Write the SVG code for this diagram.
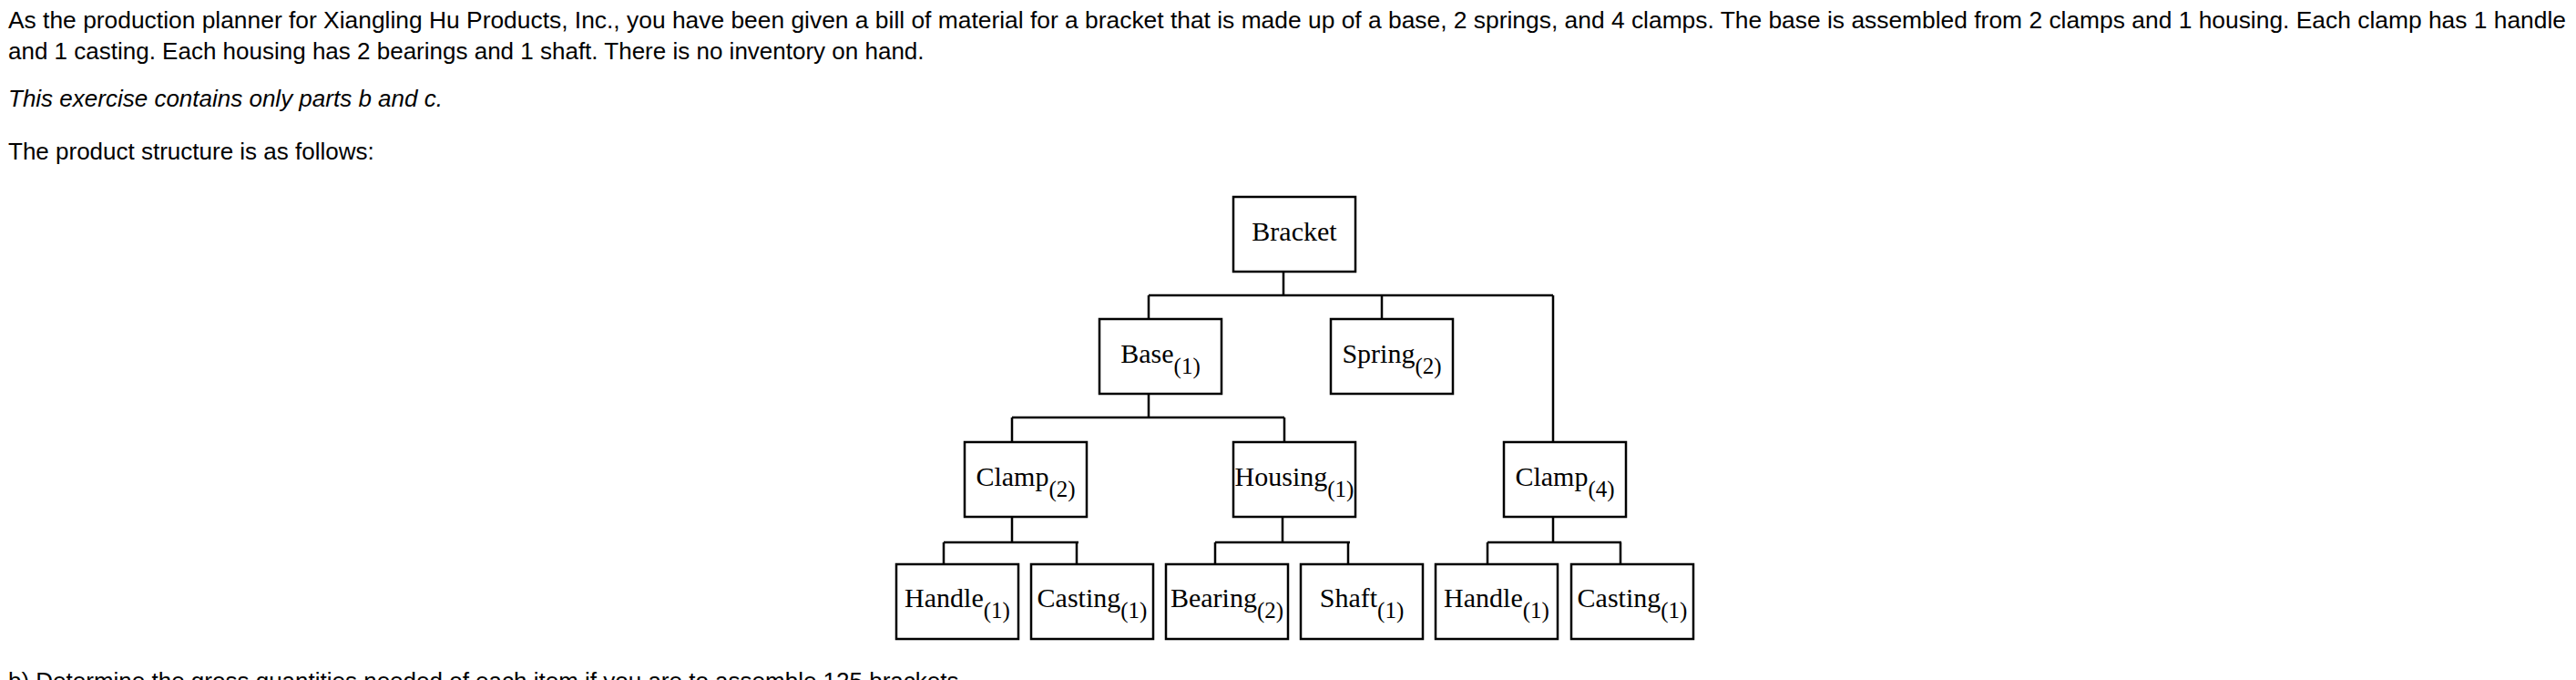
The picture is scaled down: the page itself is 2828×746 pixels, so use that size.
<svg xmlns="http://www.w3.org/2000/svg" width="2828" height="746" viewBox="0 0 2828 746">
<style>
.p{font-family:"Liberation Sans",Arial,sans-serif;font-size:26px;fill:#000}
.box{fill:#fff;stroke:#000;stroke-width:2.5}
.t{font-family:"Liberation Serif","Times New Roman",serif;font-size:30px;fill:#000;text-anchor:middle}
.s{font-size:25px}
.c{stroke:#000;stroke-width:2.5;fill:none}
</style>
<rect width="2828" height="746" fill="#fff"/>
<text class="p" x="9" y="31" textLength="2808" lengthAdjust="spacingAndGlyphs">As the production planner for Xiangling Hu Products, Inc., you have been given a bill of material for a bracket that is made up of a base, 2 springs, and 4 clamps. The base is assembled from 2 clamps and 1 housing. Each clamp has 1 handle</text>
<text class="p" x="9" y="65">and 1 casting. Each housing has 2 bearings and 1 shaft. There is no inventory on hand.</text>
<text class="p" x="9" y="117" font-style="italic">This exercise contains only parts b and c.</text>
<text class="p" x="9" y="175">The product structure is as follows:</text>
<text class="p" x="9" y="756">b) Determine the gross quantities needed of each item if you are to assemble 125 brackets.</text>
<g transform="translate(-18,0)">
<g id="connectors">
<path class="c" d="M1427 297V324M1279 324H1723M1279 324V350M1535 324V350M1723 324V485"/>
<path class="c" d="M1279 432V458M1129 458H1428M1129 458V485M1428 458V485"/>
<path class="c" d="M1129 566V595M1054 595H1202M1054 595V619M1200 595V619"/>
<path class="c" d="M1426 566V595M1352 595H1500M1352 595V619M1498 595V619"/>
<path class="c" d="M1723 566V595M1651 595H1798M1651 595V619M1797 595V619"/>
</g>
<g id="bracket"><rect class="box" x="1372" y="216" width="134" height="82"/><text class="t" x="1439" y="264">Bracket</text></g>
<g id="base"><rect class="box" x="1225" y="350" width="134" height="82"/><text class="t" x="1292" y="398">Base<tspan class="s" dy="12">(1)</tspan></text></g>
<g id="spring"><rect class="box" x="1479" y="350" width="134" height="82"/><text class="t" x="1546" y="398">Spring<tspan class="s" dy="12">(2)</tspan></text></g>
<g id="clamp2"><rect class="box" x="1077" y="485" width="134" height="82"/><text class="t" x="1144" y="533">Clamp<tspan class="s" dy="12">(2)</tspan></text></g>
<g id="housing"><rect class="box" x="1372" y="485" width="134" height="82"/><text class="t" x="1439" y="533">Housing<tspan class="s" dy="12">(1)</tspan></text></g>
<g id="clamp4"><rect class="box" x="1669" y="485" width="134" height="82"/><text class="t" x="1736" y="533">Clamp<tspan class="s" dy="12">(4)</tspan></text></g>
<g id="handle1"><rect class="box" x="1002" y="619" width="134" height="82"/><text class="t" x="1069" y="666">Handle<tspan class="s" dy="12">(1)</tspan></text></g>
<g id="casting1"><rect class="box" x="1150" y="619" width="134" height="82"/><text class="t" x="1217" y="666">Casting<tspan class="s" dy="12">(1)</tspan></text></g>
<g id="bearing"><rect class="box" x="1298" y="619" width="134" height="82"/><text class="t" x="1365" y="666">Bearing<tspan class="s" dy="12">(2)</tspan></text></g>
<g id="shaft"><rect class="box" x="1446" y="619" width="134" height="82"/><text class="t" x="1513" y="666">Shaft<tspan class="s" dy="12">(1)</tspan></text></g>
<g id="handle2"><rect class="box" x="1594" y="619" width="134" height="82"/><text class="t" x="1661" y="666">Handle<tspan class="s" dy="12">(1)</tspan></text></g>
<g id="casting2"><rect class="box" x="1743" y="619" width="134" height="82"/><text class="t" x="1810" y="666">Casting<tspan class="s" dy="12">(1)</tspan></text></g>
</g>
</svg>
